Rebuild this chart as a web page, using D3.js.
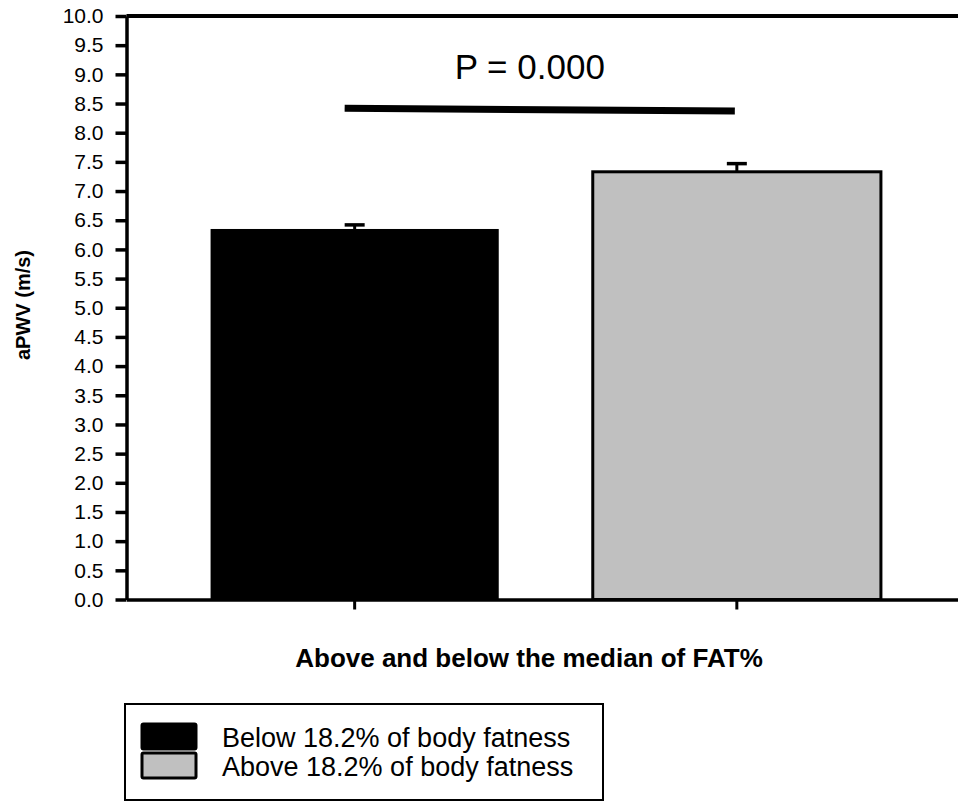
<!DOCTYPE html>
<html>
<head>
<meta charset="utf-8">
<script src="https://cdn.jsdelivr.net/npm/d3@7"></script>
<style>
  body { margin: 0; background: #fff; }
  svg { display: block; font-family: Arial, "Liberation Sans", sans-serif; }
</style>
</head>
<body>
<div id="chart"></div>
<script>
const groups = ["below", "above"];
const labels = ["Below 18.2% of body fatness", "Above 18.2% of body fatness"];
const means = [6.35, 7.33];
const errors = [0.07, 0.14];
const fills = ["#000000", "#c0c0c0"];
const yTicks = d3.range(0, 10.01, 0.5);
const pText = "P = 0.000";
const sigLevels = [8.42, 8.37];

const W = 958, H = 802;
const plot = { left: 126.5, top: 16, bottom: 599.5, right: 965 };

const svg = d3.select("#chart")
  .append("svg")
  .attr("width", W)
  .attr("height", H);

const x = d3.scaleBand()
  .domain(groups)
  .range([plot.left, plot.right])
  .paddingInner(0.246)
  .paddingOuter(0.22);

const y = d3.scaleLinear()
  .domain([0, 10])
  .range([plot.bottom, plot.top]);

// frame top line
svg.append("line")
  .attr("x1", plot.left).attr("x2", plot.right)
  .attr("y1", y(10)).attr("y2", y(10))
  .attr("stroke", "#000").attr("stroke-width", 4);

// bars
svg.selectAll(".bar")
  .data(groups)
  .enter()
  .append("rect")
  .attr("x", d => x(d))
  .attr("y", (d, i) => y(means[i]))
  .attr("width", x.bandwidth())
  .attr("height", (d, i) => y(0) - y(means[i]))
  .attr("fill", (d, i) => fills[i])
  .attr("stroke", "#000")
  .attr("stroke-width", (d, i) => i === 0 ? 0 : 3);

// error bars (upper only)
const err = svg.selectAll(".err")
  .data(groups)
  .enter()
  .append("g");

err.append("line")
  .attr("x1", d => x(d) + x.bandwidth() / 2)
  .attr("x2", d => x(d) + x.bandwidth() / 2)
  .attr("y1", (d, i) => y(means[i]))
  .attr("y2", (d, i) => y(means[i] + errors[i]))
  .attr("stroke", "#000").attr("stroke-width", 3);

err.append("line")
  .attr("x1", d => x(d) + x.bandwidth() / 2 - 10)
  .attr("x2", d => x(d) + x.bandwidth() / 2 + 10)
  .attr("y1", (d, i) => y(means[i] + errors[i]))
  .attr("y2", (d, i) => y(means[i] + errors[i]))
  .attr("stroke", "#000").attr("stroke-width", 3.5);

// y axis
const yAxis = svg.append("g")
  .attr("transform", `translate(${plot.left},0)`)
  .call(d3.axisLeft(y).tickValues(yTicks).tickFormat(d3.format(".1f"))
    .tickSize(11).tickSizeOuter(0).tickPadding(12));
yAxis.select(".domain").attr("stroke-width", 3.5);
yAxis.selectAll(".tick line").attr("stroke-width", 3.5);
yAxis.selectAll(".tick text")
  .attr("font-size", 21)
  .attr("font-family", "Arial, 'Liberation Sans', sans-serif")
  .attr("fill", "#000");

// x axis
const xAxis = svg.append("g")
  .attr("transform", `translate(0,${plot.bottom})`)
  .call(d3.axisBottom(x).tickFormat("").tickSize(10).tickSizeOuter(0));
xAxis.select(".domain").attr("stroke-width", 3.5);
xAxis.selectAll(".tick line").attr("stroke-width", 3);

// significance line and label
const cx = groups.map(g => x(g) + x.bandwidth() / 2);
svg.append("line")
  .attr("x1", cx[0] - 10).attr("x2", cx[1] - 2)
  .attr("y1", y(sigLevels[0])).attr("y2", y(sigLevels[1]))
  .attr("stroke", "#000").attr("stroke-width", 7);

svg.append("text")
  .attr("x", (cx[0] + cx[1]) / 2 - 16)
  .attr("y", 79)
  .attr("text-anchor", "middle")
  .attr("font-size", 35)
  .text(pText);

// axis titles
svg.append("text")
  .attr("transform", "translate(30,305) rotate(-90)")
  .attr("text-anchor", "middle")
  .attr("font-size", 20)
  .attr("font-weight", "bold")
  .text("aPWV (m/s)");

svg.append("text")
  .attr("x", 529)
  .attr("y", 667)
  .attr("text-anchor", "middle")
  .attr("font-size", 26)
  .attr("font-weight", "bold")
  .text("Above and below the median of FAT%");

// legend
const legend = svg.append("g");
legend.append("rect")
  .attr("x", 125).attr("y", 704)
  .attr("width", 478).attr("height", 96)
  .attr("fill", "none")
  .attr("stroke", "#000").attr("stroke-width", 2);

const item = legend.selectAll(".item")
  .data(labels)
  .enter()
  .append("g")
  .attr("transform", (d, i) => `translate(0,${i * 29})`);

item.append("rect")
  .attr("x", 142).attr("y", 724)
  .attr("width", 54).attr("height", 25)
  .attr("rx", 1.5)
  .attr("fill", (d, i) => fills[i])
  .attr("stroke", "#000").attr("stroke-width", 3);

item.append("text")
  .attr("x", 222)
  .attr("y", 747)
  .attr("font-size", 27)
  .text(d => d);
</script>
</body>
</html>
